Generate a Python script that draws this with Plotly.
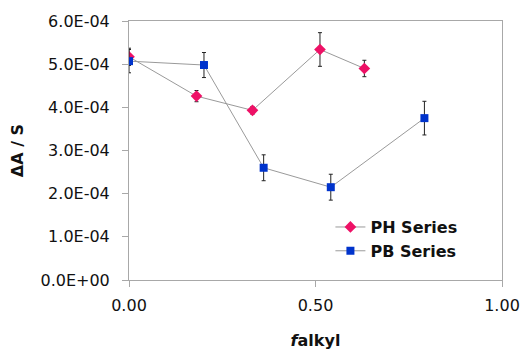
import plotly.graph_objects as go

ph_x = [0.00, 0.181, 0.331, 0.512, 0.631]
ph_y = [5.17e-4, 4.26e-4, 3.93e-4, 5.34e-4, 4.90e-4]
ph_err = [0.20e-4, 0.13e-4, 0.09e-4, 0.39e-4, 0.19e-4]

pb_x = [0.00, 0.201, 0.361, 0.541, 0.792]
pb_y = [5.07e-4, 4.98e-4, 2.60e-4, 2.15e-4, 3.75e-4]
pb_err = [0.27e-4, 0.29e-4, 0.30e-4, 0.30e-4, 0.39e-4]

y_ticks = [0, 1e-4, 2e-4, 3e-4, 4e-4, 5e-4, 6e-4]
y_labels = ["0.0E+00", "1.0E-04", "2.0E-04", "3.0E-04", "4.0E-04", "5.0E-04", "6.0E-04"]
x_ticks = [0, 0.5, 1.0]
x_labels = ["0.00", "0.50", "1.00"]

font = "DejaVu Sans, sans-serif"

fig = go.Figure()
fig.add_trace(go.Scatter(
    x=ph_x, y=ph_y, name="PH Series", mode="lines+markers",
    line=dict(color="#9a9a9a", width=1),
    marker=dict(symbol="diamond", size=9, color="#EE1166"),
    error_y=dict(type="data", array=ph_err, color="#222222", thickness=1, width=2),
))
fig.add_trace(go.Scatter(
    x=pb_x, y=pb_y, name="PB Series", mode="lines+markers",
    line=dict(color="#9a9a9a", width=1),
    marker=dict(symbol="square", size=8, color="#0033CC"),
    error_y=dict(type="data", array=pb_err, color="#222222", thickness=1, width=2),
))

fig.update_layout(
    width=524, height=352,
    margin=dict(l=129, r=22, t=21, b=72),
    paper_bgcolor="white", plot_bgcolor="white",
    font=dict(family=font, size=16, color="#111111"),
    showlegend=True,
    legend=dict(x=0.54, y=0.27, xanchor="left", yanchor="top",
                bgcolor="rgba(0,0,0,0)", font=dict(size=16, color="#111111", weight="bold"),
                itemwidth=30, tracegroupgap=0),
)
fig.update_xaxes(
    range=[0, 1], tickvals=x_ticks, ticktext=x_labels, automargin=False,
    showgrid=False, zeroline=False, showline=True, linecolor="#a8a8a8", linewidth=1,
    mirror=True, ticks="outside", ticklen=6, tickcolor="#a8a8a8",
    ticklabelstandoff=5,
    title=dict(text="<b><i>f</i>alkyl</b>", standoff=20, font=dict(size=16)),
)
fig.update_yaxes(
    range=[0, 6e-4], tickvals=y_ticks, ticktext=y_labels, automargin=False,
    showgrid=False, zeroline=False, showline=True, linecolor="#a8a8a8", linewidth=1,
    mirror=True, ticks="outside", ticklen=6, tickcolor="#a8a8a8",
    ticklabelstandoff=9,
    title=dict(text="<b>ΔA / S</b>", standoff=12, font=dict(size=16)),
)

fig.write_html("out.html")
